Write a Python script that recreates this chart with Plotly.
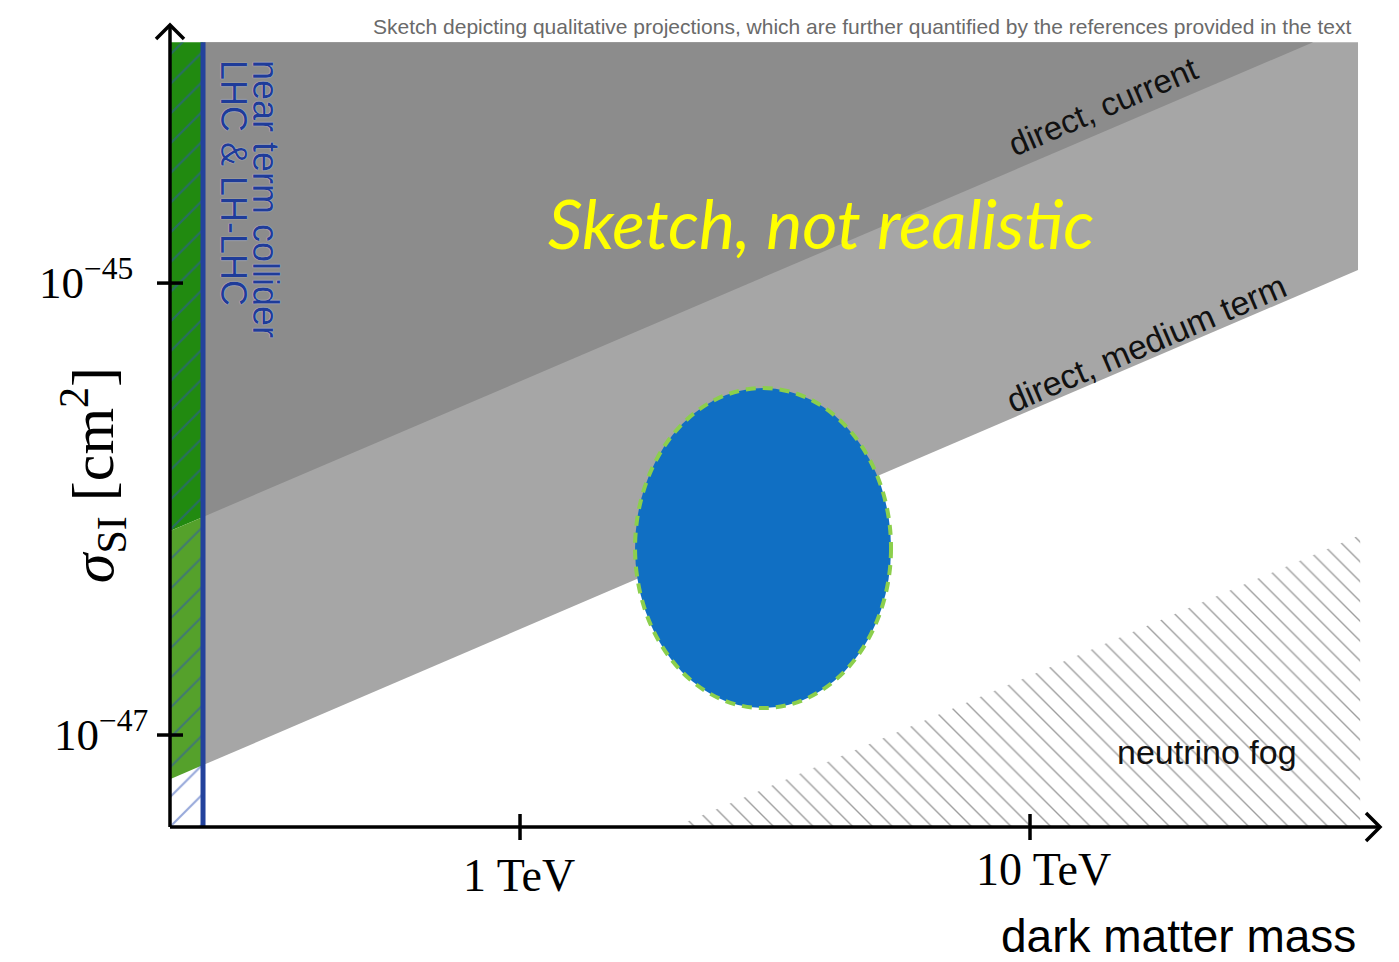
import math
import plotly.graph_objects as go

# ---- axis extents ----
mass_lim = [0.2059, 48.56]           # dark matter mass, TeV
sigma_lim = [3.917e-48, 1.387e-44]   # sigma_SI, cm^2

# ---- sketched regions ----
sigma_top = 1.164e-44                # upper edge of the shaded regions
collider_mass = 0.239                # near-term collider reach, TeV

current_mass = [0.2059, 0.239, 35.9]
current_sigma = [7.99e-47, 9.23e-47, 1.164e-44]

medium_mass = [0.2059, 0.239, 43.97]
medium_sigma = [6.37e-48, 7.36e-48, 1.143e-45]

fog_mass = [2.01, 44.4, 44.4]
fog_sigma = [3.917e-48, 7.67e-47, 3.917e-48]

blob_mass = [1.681, 5.339]
blob_sigma = [1.316e-47, 3.43e-46]

x_tick_vals = [1, 10]
x_tick_text = ["1 TeV", "10 TeV"]
y_tick_vals = [1e-45, 1e-47]
y_tick_text = ["10<sup>\u221245</sup>", "10<sup>\u221247</sup>"]

collider_lines = ["near term collider", "LHC & LH-LHC"]

SERIF = "Liberation Serif, Times New Roman, serif"
SANS = "Liberation Sans, Arial, sans-serif"

lg = math.log10

fig = go.Figure()

def region(xs, ys, color, **kw):
    fig.add_trace(go.Scatter(
        x=xs, y=ys, mode="lines", fill="toself", fillcolor=color,
        line=dict(width=0), hoverinfo="skip", showlegend=False, **kw))

# direct detection, medium term reach
region([collider_mass, medium_mass[2], medium_mass[2], collider_mass],
       [sigma_top, sigma_top, medium_sigma[2], medium_sigma[1]], "#a6a6a6")
# direct detection, current limit
region([collider_mass, current_mass[2], collider_mass],
       [sigma_top, sigma_top, current_sigma[1]], "#8c8c8c")
# neutrino fog
fig.add_trace(go.Scatter(
    x=fog_mass, y=fog_sigma, mode="lines", fill="toself",
    fillcolor="rgba(255,255,255,0)", line=dict(width=0),
    fillpattern=dict(shape="\\", fgcolor="#333333", fgopacity=0.48,
                     bgcolor="rgba(255,255,255,0)", size=14, solidity=0.1),
    hoverinfo="skip", showlegend=False))
# collider band, split by the direct-detection boundaries
band_x = [mass_lim[0], collider_mass, collider_mass, mass_lim[0]]
region(band_x, [sigma_top, sigma_top, current_sigma[1], current_sigma[0]], "#218a10")
region(band_x, [current_sigma[0], current_sigma[1], medium_sigma[1], medium_sigma[0]], "#55a12b")
fig.add_trace(go.Scatter(
    x=band_x, y=[sigma_lim[0], sigma_lim[0], sigma_top, sigma_top],
    mode="lines", fill="toself", fillcolor="rgba(0,0,0,0)", line=dict(width=0),
    fillpattern=dict(shape="/", fgcolor="#3052b5", bgcolor="rgba(0,0,0,0)",
                     size=21, solidity=0.1),
    hoverinfo="skip", showlegend=False))
# collider reach line
fig.add_trace(go.Scatter(
    x=[collider_mass, collider_mass], y=[sigma_lim[0], sigma_top],
    mode="lines", line=dict(color="#23429c", width=5),
    hoverinfo="skip", showlegend=False))

shapes = []
# signal region
shapes.append(dict(type="circle", xref="x", yref="y",
                   x0=blob_mass[0], x1=blob_mass[1],
                   y0=blob_sigma[0], y1=blob_sigma[1],
                   fillcolor="#106fc3",
                   line=dict(color="#8ccf4c", width=4, dash="10px,7px")))
# axis lines with open arrow heads
axis_line = dict(color="black", width=3.5)
shapes.append(dict(type="line", xref="paper", yref="paper",
                   x0=0, x1=1, y0=0, y1=0, line=axis_line))
shapes.append(dict(type="line", xref="paper", yref="paper",
                   x0=0, x1=0, y0=0, y1=1, line=axis_line))
shapes.append(dict(type="path", xref="paper", yref="paper",
                   xsizemode="pixel", ysizemode="pixel", xanchor=1, yanchor=0,
                   path="M -14 14 L 0 0 L -14 -14", line=axis_line))
shapes.append(dict(type="path", xref="paper", yref="paper",
                   xsizemode="pixel", ysizemode="pixel", xanchor=0, yanchor=1,
                   path="M -14 -14 L 0 0 L 14 -14", line=axis_line))
# crossing ticks
for v in x_tick_vals:
    shapes.append(dict(type="line", xref="x", yref="paper",
                       ysizemode="pixel", yanchor=0,
                       x0=v, x1=v, y0=-13, y1=13, line=axis_line))
for v in y_tick_vals:
    shapes.append(dict(type="line", xref="paper", yref="y",
                       xsizemode="pixel", xanchor=0,
                       x0=-13, x1=13, y0=v, y1=v, line=axis_line))

ann = []
for v, t, dx, dy in zip(x_tick_vals, x_tick_text, [-1, 13], [-21, -15]):
    ann.append(dict(x=lg(v), xref="x", y=0, yref="paper", text=t,
                    xanchor="center", yanchor="top", xshift=dx, yshift=dy,
                    showarrow=False, font=dict(family=SERIF, size=46, color="black")))
for v, t, dx in zip(y_tick_vals, y_tick_text, [-35, -20]):
    ann.append(dict(x=0, xref="paper", y=lg(v), yref="y", text=t,
                    xanchor="right", yanchor="middle", xshift=dx, yshift=4,
                    showarrow=False, font=dict(family=SERIF, size=45, color="black")))
ann.append(dict(x=0, xref="paper", y=-45.85, yref="y", xshift=-77,
                text="<i>\u03c3</i><sub>SI</sub> [cm<sup>2</sup>]", textangle=-90,
                xanchor="center", yanchor="middle", showarrow=False,
                font=dict(family=SERIF, size=60, color="black")))
ann.append(dict(x=1, xref="paper", y=0, yref="paper", xshift=-22, yshift=-81,
                text="dark matter mass", xanchor="right", yanchor="top",
                showarrow=False, font=dict(family=SANS, size=46, color="black")))
ann.append(dict(x=1, xref="paper", y=1, yref="paper", xshift=-27, yshift=-1,
                text="Sketch depicting qualitative projections, which are further "
                     "quantified by the references provided in the text",
                xanchor="right", yanchor="middle", showarrow=False,
                font=dict(family=SANS, size=21, color="#6a6a6a")))
ann.append(dict(x=lg(3.89), y=-44.73, text="Sketch, not realistic",
                showarrow=False, xanchor="center", yanchor="middle",
                font=dict(family="Lato, Open Sans, sans-serif", size=68,
                          color="#ffff00", style="italic")))
ann.append(dict(x=lg(13.9), y=-44.217, text="direct, current", textangle=-23.2,
                showarrow=False, xanchor="center", yanchor="middle",
                font=dict(family=SANS, size=33, color="#111111")))
ann.append(dict(x=lg(16.9), y=-45.265, text="direct, medium term", textangle=-23.2,
                showarrow=False, xanchor="center", yanchor="middle",
                font=dict(family=SANS, size=34, color="#111111")))
ann.append(dict(x=lg(22.2), y=-47.075, text="neutrino fog",
                showarrow=False, xanchor="center", yanchor="middle",
                font=dict(family=SANS, size=34, color="#111111")))
# collider label, one rotated line per annotation
for t, m in zip(collider_lines, [0.3177, 0.2749]):
    ann.append(dict(x=lg(m), y=-44.004, text=t, textangle=90,
                    showarrow=False, xanchor="center", yanchor="top",
                    font=dict(family=SANS, size=36, color="#1f3c99",
                              shadow="0px 0px 1px white")))

fig.update_layout(
    width=1399, height=962,
    margin=dict(l=170, r=19, t=25, b=135),
    paper_bgcolor="white", plot_bgcolor="white",
    showlegend=False, hovermode=False,
    xaxis=dict(type="log", range=[lg(mass_lim[0]), lg(mass_lim[1])],
               showgrid=False, zeroline=False, showline=False,
               showticklabels=False, ticks=""),
    yaxis=dict(type="log", range=[lg(sigma_lim[0]), lg(sigma_lim[1])],
               showgrid=False, zeroline=False, showline=False,
               showticklabels=False, ticks=""),
    shapes=shapes, annotations=ann,
)

fig.write_html("out.html")
